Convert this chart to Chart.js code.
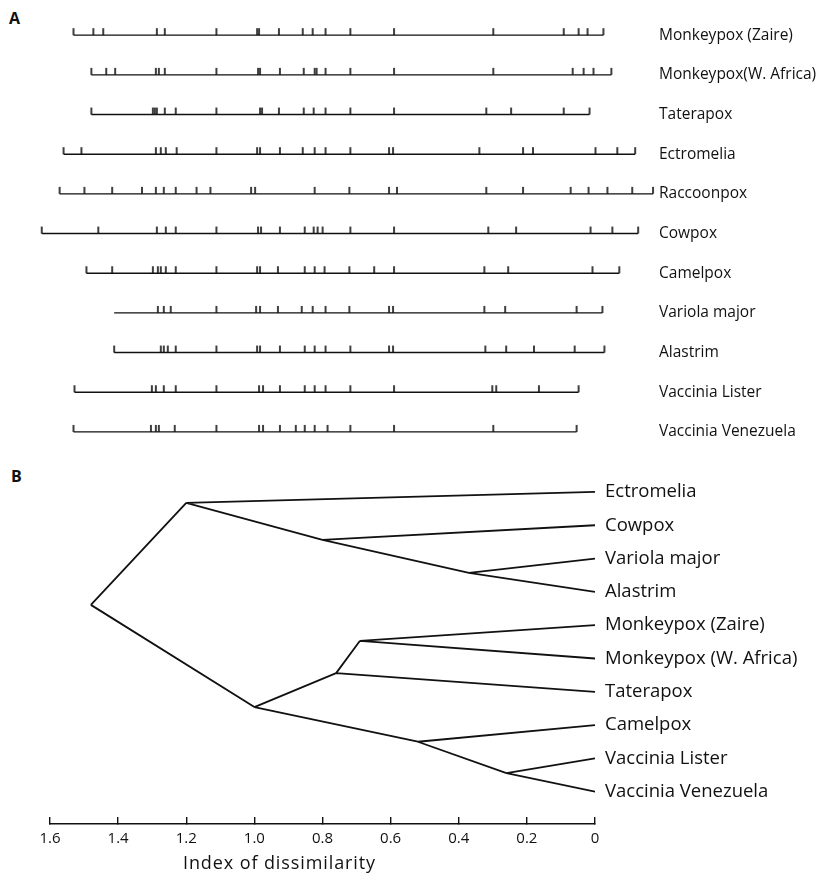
<!DOCTYPE html>
<html>
<head>
<meta charset="utf-8">
<script src="https://cdn.jsdelivr.net/npm/chart.js@4.4.1/dist/chart.umd.min.js"></script>
<style>
  body { margin: 0; background: #fff; }
  #page { position: relative; width: 837px; height: 879px; font-family: "Open Sans", Lato, sans-serif; color: #111; }
  .panel { position: absolute; left: 0; }
  .tag { position: absolute; font-weight: bold; font-size: 16px; }
  #axisTitle { position: absolute; left: 183px; top: 850px; font-size: 18px; letter-spacing: 0.9px; }
</style>
</head>
<body>
<div id="page">
  <div class="tag" style="left:9px;top:7px">A</div>
  <div class="tag" style="left:11px;top:465px">B</div>
  <canvas id="mapChart" class="panel" style="top:0" width="837" height="450"></canvas>
  <canvas id="treeChart" class="panel" style="top:450px" width="837" height="429"></canvas>
  <div id="axisTitle">Index of dissimilarity</div>
</div>
<script>
// ---- panel A: restriction site maps (map position, arbitrary units) ----
const rowNames = ['Monkeypox (Zaire)', 'Monkeypox(W. Africa)', 'Taterapox', 'Ectromelia', 'Raccoonpox',
  'Cowpox', 'Camelpox', 'Variola major', 'Alastrim', 'Vaccinia Lister', 'Vaccinia Venezuela'];
const mapStart = [69, 87, 87, 59, 55, 37, 82, 110, 110, 70, 69];
const mapEnd = [603, 611, 589, 635, 653, 638, 619, 602, 604, 578, 576];

const sitesZaire = [69, 89, 99, 153, 161, 213, 254, 256, 276, 300, 310, 323, 348, 392, 492, 563, 578, 587, 603];
const sitesWAfrica = [87, 102, 111, 152, 155, 161, 213, 255, 257, 277, 301, 312, 314, 323, 348, 392, 492, 572, 583, 593, 611];
const sitesTaterapox = [87, 149, 151, 153, 161, 172, 213, 257, 259, 276, 301, 311, 323, 348, 392, 485, 510, 563, 589];
const sitesEctromelia = [59, 77, 152, 157, 162, 173, 213, 254, 257, 277, 300, 312, 323, 348, 387, 391, 478, 522, 532, 595, 617, 635];
const sitesRaccoonpox = [55, 80, 108, 138, 152, 160, 172, 193, 207, 248, 252, 312, 347, 387, 395, 485, 522, 570, 588, 607, 632, 653];
const sitesCowpox = [37, 94, 153, 162, 172, 213, 255, 258, 277, 302, 311, 315, 320, 348, 392, 487, 515, 590, 612, 638];
const sitesCamelpox = [82, 108, 149, 154, 157, 162, 172, 213, 254, 257, 275, 302, 312, 322, 347, 372, 392, 483, 507, 592, 619];
const sitesVariola = [154, 160, 167, 213, 253, 257, 275, 299, 310, 323, 347, 387, 391, 483, 504, 576, 602];
const sitesAlastrim = [110, 157, 160, 164, 172, 213, 254, 257, 277, 302, 312, 323, 348, 387, 391, 484, 505, 533, 574, 604];
const sitesLister = [70, 148, 152, 160, 172, 213, 256, 260, 277, 302, 312, 323, 348, 392, 491, 495, 538, 578];
const sitesVenezuela = [69, 147, 152, 155, 171, 213, 256, 260, 277, 293, 302, 312, 325, 348, 392, 492, 576];

// ---- panel B: dendrogram ----
const leafNames = ['Ectromelia', 'Cowpox', 'Variola major', 'Alastrim', 'Monkeypox (Zaire)',
  'Monkeypox (W. Africa)', 'Taterapox', 'Camelpox', 'Vaccinia Lister', 'Vaccinia Venezuela'];
// internal nodes: dissimilarity and vertical position (in leaf rows)
const nodeIds = ['root', 'groupA', 'cowpoxNode', 'variolaNode', 'groupB', 'taterapoxNode', 'monkeypoxNode', 'camelpoxNode', 'vacciniaNode'];
const nodeHeight = [1.48, 1.20, 0.80, 0.37, 1.00, 0.76, 0.69, 0.52, 0.26];
const nodeRow = [3.39, 0.33, 1.44, 2.43, 6.46, 5.44, 4.47, 7.5, 8.44];
const treeEdges = [
  ['root', 'groupA'], ['root', 'groupB'],
  ['groupA', 'Ectromelia'], ['groupA', 'cowpoxNode'],
  ['cowpoxNode', 'Cowpox'], ['cowpoxNode', 'variolaNode'],
  ['variolaNode', 'Variola major'], ['variolaNode', 'Alastrim'],
  ['groupB', 'taterapoxNode'], ['groupB', 'camelpoxNode'],
  ['taterapoxNode', 'monkeypoxNode'], ['taterapoxNode', 'Taterapox'],
  ['monkeypoxNode', 'Monkeypox (Zaire)'], ['monkeypoxNode', 'Monkeypox (W. Africa)'],
  ['camelpoxNode', 'Camelpox'], ['camelpoxNode', 'vacciniaNode'],
  ['vacciniaNode', 'Vaccinia Lister'], ['vacciniaNode', 'Vaccinia Venezuela']
];
const axisTicks = [1.6, 1.4, 1.2, 1.0, 0.8, 0.6, 0.4, 0.2, 0];

const labelFont = '"Open Sans", Lato, sans-serif';

// tick mark pointing up from the baseline
const siteMark = document.createElement('canvas');
siteMark.width = 4; siteMark.height = 16;
const mctx = siteMark.getContext('2d');
mctx.fillStyle = '#111';
mctx.fillRect(1.2, 1, 1.6, 7);

const siteMaps = [sitesZaire, sitesWAfrica, sitesTaterapox, sitesEctromelia, sitesRaccoonpox, sitesCowpox,
  sitesCamelpox, sitesVariola, sitesAlastrim, sitesLister, sitesVenezuela];

const baseline = [];
rowNames.forEach((_, i) => {
  baseline.push({ x: mapStart[i], y: i }, { x: mapEnd[i], y: i }, { x: mapEnd[i], y: null });
});
const sitePoints = siteMaps.flatMap((s, i) => s.map(x => ({ x: x, y: i })));

// labels sit on the axis, so drop the label padding Chart.js adds at the ends
const noEndPadding = s => { s.paddingTop = 0; s.paddingBottom = 0; };

new Chart(document.getElementById('mapChart'), {
  type: 'line',
  data: {
    datasets: [
      { data: baseline, borderColor: '#111', borderWidth: 1.4, pointRadius: 0, spanGaps: false },
      { type: 'scatter', data: sitePoints, pointStyle: siteMark, pointRadius: 4 }
    ]
  },
  options: {
    responsive: false,
    animation: false,
    layout: { padding: 0 },
    plugins: { legend: { display: false }, tooltip: { enabled: false } },
    scales: {
      x: { type: 'linear', min: 0, max: 657, display: false },
      y: {
        type: 'linear', position: 'right', reverse: true, min: -0.76, max: 10.33,
        grid: { display: false, drawTicks: false }, border: { display: false },
        afterBuildTicks: s => { s.ticks = rowNames.map((_, i) => ({ value: i })); },
        afterFit: s => { s.width = 180; noEndPadding(s); },
        ticks: {
          padding: 2, color: '#111', font: { family: labelFont, size: 15.5 },
          callback: v => rowNames[v]
        }
      }
    }
  }
});

const nodePos = {};
nodeIds.forEach((id, i) => { nodePos[id] = { x: nodeHeight[i], y: nodeRow[i] }; });
leafNames.forEach((name, i) => { nodePos[name] = { x: 0, y: i }; });
const branches = [];
treeEdges.forEach(([a, b]) => {
  branches.push({ x: nodePos[a].x, y: nodePos[a].y }, { x: nodePos[b].x, y: nodePos[b].y }, { x: nodePos[b].x, y: null });
});

new Chart(document.getElementById('treeChart'), {
  type: 'line',
  data: {
    datasets: [
      { data: branches, borderColor: '#111', borderWidth: 1.8, pointRadius: 0, spanGaps: false }
    ]
  },
  options: {
    responsive: false,
    animation: false,
    layout: { padding: { left: 50, top: 0, right: 0, bottom: 0 } },
    plugins: { legend: { display: false }, tooltip: { enabled: false } },
    scales: {
      x: {
        type: 'linear', reverse: true, min: 0, max: 1.6,
        afterBuildTicks: s => { s.ticks = axisTicks.map(v => ({ value: v })); },
        afterFit: s => { s.height = 55; s.paddingLeft = 0; s.paddingRight = 0; },
        grid: { drawOnChartArea: false, drawTicks: true, tickLength: -7, color: '#111', lineWidth: 1.4 },
        border: { display: true, color: '#111', width: 1.4 },
        ticks: {
          padding: 13, color: '#111', font: { family: labelFont, size: 15 },
          callback: v => v === 0 ? '0' : v.toFixed(1)
        }
      },
      y: {
        type: 'linear', position: 'right', reverse: true, min: -1.26, max: 9.97,
        grid: { display: false, drawTicks: false }, border: { display: false },
        afterBuildTicks: s => { s.ticks = leafNames.map((_, i) => ({ value: i })); },
        afterFit: s => { s.width = 242; noEndPadding(s); },
        ticks: {
          padding: 10, color: '#111', font: { family: labelFont, size: 18.5 },
          callback: v => leafNames[v]
        }
      }
    }
  }
});
</script>
</body>
</html>
